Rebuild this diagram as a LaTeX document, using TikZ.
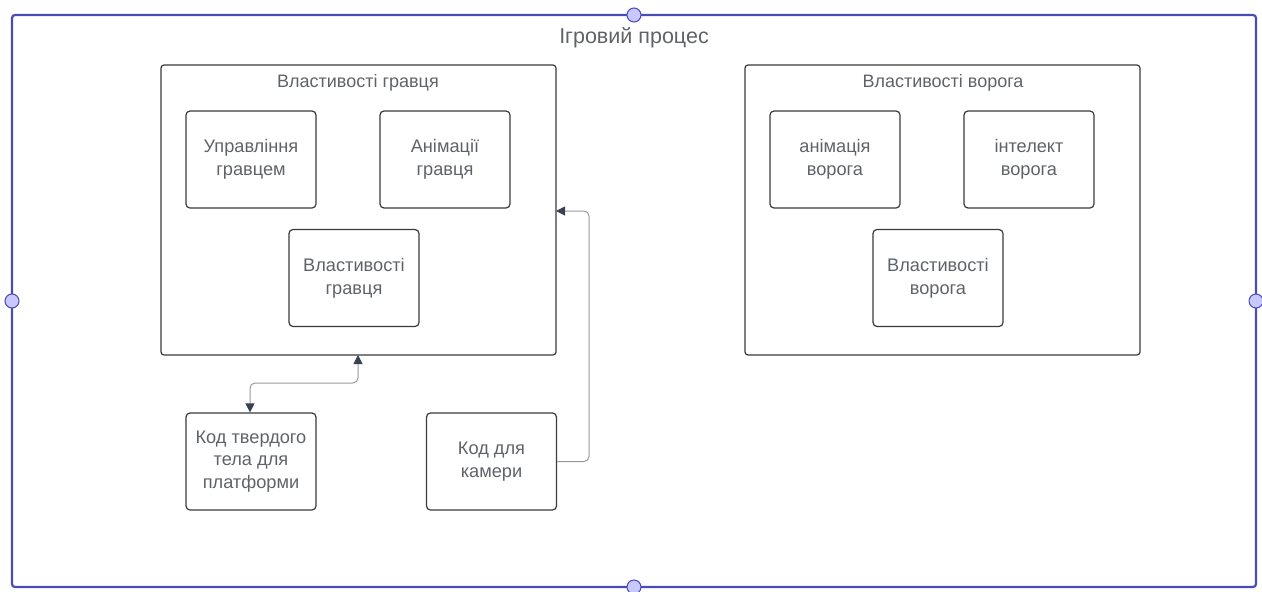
\documentclass[tikz,border=0pt]{standalone}
\usepackage{fontspec}
\setmainfont{Liberation Sans}
\usetikzlibrary{arrows.meta}
\definecolor{frameblue}{HTML}{4A4AB8}
\definecolor{handlefill}{HTML}{C8C8FF}
\definecolor{txt}{HTML}{5F6368}
\definecolor{boxline}{HTML}{3A3A3A}
\definecolor{conn}{HTML}{9A9A9A}
\definecolor{tip}{HTML}{3A4050}
\tikzset{
  x=1pt,y=-1pt,
  frame/.style={draw=frameblue,line width=2.2pt,rounded corners=3pt},
  handle/.style={circle,draw=frameblue,fill=handlefill,line width=1pt,minimum size=14pt,inner sep=0pt},
  group/.style={draw=boxline,line width=1.2pt,rounded corners=3pt},
  item/.style={draw=boxline,line width=1.2pt,rounded corners=4pt,minimum width=130pt,minimum height=97pt,align=center,text=txt,font=\fontsize{18.2}{22.8}\selectfont,inner sep=0pt},
  glabel/.style={text=txt,font=\fontsize{18}{20}\selectfont},
  connector/.style={draw=conn,line width=1pt,rounded corners=5pt},
  tipped/.style={-{Triangle[length=9pt,width=9pt,fill=tip,color=tip]}},
}
\begin{document}
\begin{tikzpicture}
\useasboundingbox (0,0) rectangle (1262,592);
% outer frame
\draw[frame] (12,15) rectangle (1256,587);
\node[text=txt,font=\fontsize{21.5}{24}\selectfont] (title) at (634,38) {Ігровий процес};
% player group
\draw[group] (161,65) rectangle (556,355);
\coordinate (pgbot) at (358,355);
\coordinate (pgright) at (556,211);
\node[glabel] (pglabel) at (358,83) {Властивості гравця};
\node[item] (ctrl) at (251,159.5) {Управління\\гравцем};
\node[item] (anim) at (445,159.5) {Анімації\\гравця};
\node[item] (pprops) at (354,278) {Властивості\\гравця};
% enemy group
\draw[group] (745,65) rectangle (1140,355);
\node[glabel] (eglabel) at (943,83) {Властивості ворога};
\node[item] (eanim) at (835,159.5) {анімація\\ворога};
\node[item] (eai) at (1029,159.5) {інтелект\\ворога};
\node[item] (eprops) at (938,278) {Властивості\\ворога};
% bottom boxes
\node[item] (rigid) at (251,461.5) {Код твердого\\тела для\\платформи};
\node[item] (cam) at (491.5,461.5) {Код для\\камери};
% connectors
\draw[connector,{Triangle[length=9pt,width=9pt,fill=tip,color=tip]}-{Triangle[length=9pt,width=9pt,fill=tip,color=tip]}]
  (pgbot) -- (358,383) -- (250,383) -- (rigid.north -| 250,0);
\draw[connector,tipped] (cam.east) -- (589,461.5) -- (589,211) -- (pgright);
% handles
\node[handle] (h1) at (634,15) {};
\node[handle] (h2) at (12,301) {};
\node[handle] (h3) at (1256,301) {};
\node[handle] (h4) at (634,587) {};
\end{tikzpicture}
\end{document}
